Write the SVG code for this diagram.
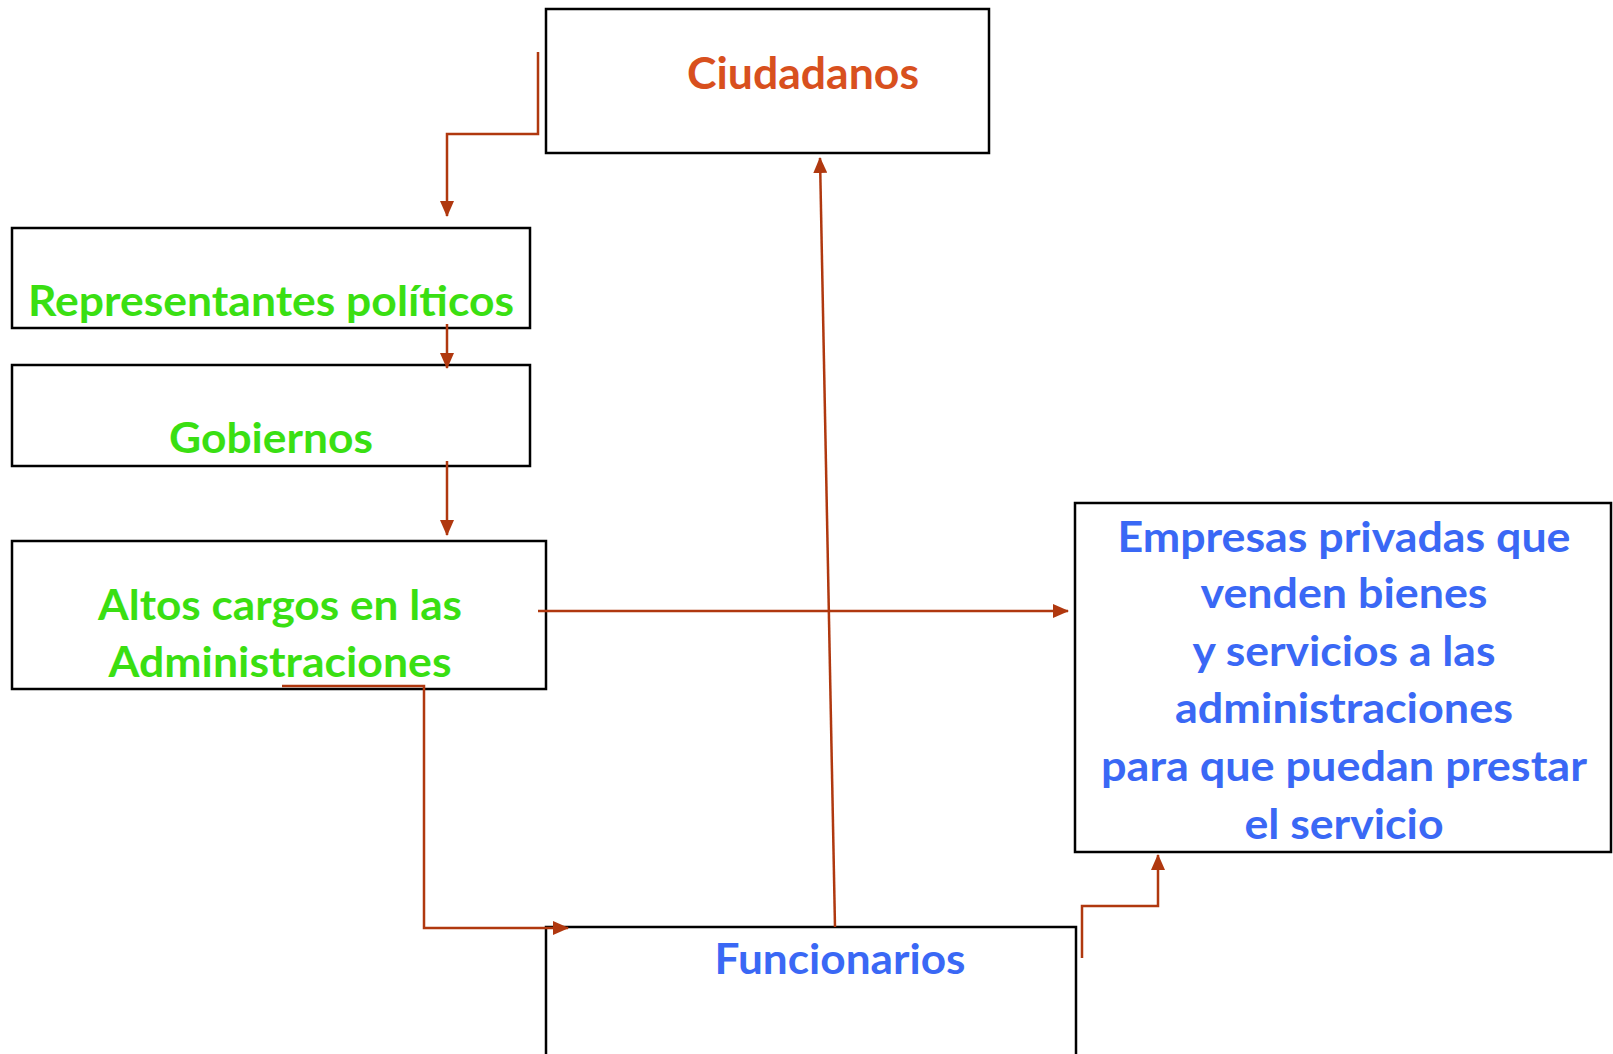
<svg xmlns="http://www.w3.org/2000/svg" width="1613" height="1054" viewBox="0 0 1613 1054">
<style>
.box{fill:#fff;stroke:#000;stroke-width:2.5}
.t{font-family:Lato,"Liberation Sans",sans-serif;font-weight:bold;text-anchor:middle}
.g{fill:#3ADF12}
.b{fill:#3A68F5}
.o{fill:#D8501E}
.c{fill:none;stroke:#B0380F;stroke-width:2.5}
</style>
<defs>
<marker id="ah" markerWidth="16" markerHeight="14" refX="15" refY="7" orient="auto" markerUnits="userSpaceOnUse">
<path d="M0,0 L16,7 L0,14 Z" fill="#B0380F"/>
</marker>
</defs>
<rect width="1613" height="1054" fill="#fff"/>
<g id="ciudadanos">
<rect class="box" x="546" y="9" width="443" height="144"/>
<text class="t o" x="803" y="89" font-size="44" textLength="232" lengthAdjust="spacingAndGlyphs">Ciudadanos</text>
</g>
<g id="representantes">
<rect class="box" x="12" y="228" width="518" height="100"/>
<text class="t g" x="271" y="316" font-size="42" textLength="486" lengthAdjust="spacingAndGlyphs">Representantes políticos</text>
</g>
<g id="gobiernos">
<rect class="box" x="12" y="365" width="518" height="101"/>
<text class="t g" x="271" y="453" font-size="42" textLength="204" lengthAdjust="spacingAndGlyphs">Gobiernos</text>
</g>
<g id="altos">
<rect class="box" x="12" y="541" width="534" height="148"/>
<text class="t g" x="280" y="620" font-size="42" textLength="364" lengthAdjust="spacingAndGlyphs">Altos cargos en las</text>
<text class="t g" x="280" y="677" font-size="42" textLength="343" lengthAdjust="spacingAndGlyphs">Administraciones</text>
</g>
<g id="empresas">
<rect class="box" x="1075" y="503" width="536" height="349"/>
<text class="t b" x="1344" y="552" font-size="42" textLength="453" lengthAdjust="spacingAndGlyphs">Empresas privadas que</text>
<text class="t b" x="1344" y="608" font-size="42" textLength="287" lengthAdjust="spacingAndGlyphs">venden bienes</text>
<text class="t b" x="1344" y="666" font-size="42" textLength="303" lengthAdjust="spacingAndGlyphs">y servicios a las</text>
<text class="t b" x="1344" y="723" font-size="42" textLength="338" lengthAdjust="spacingAndGlyphs">administraciones</text>
<text class="t b" x="1344" y="781" font-size="42" textLength="486" lengthAdjust="spacingAndGlyphs">para que puedan prestar</text>
<text class="t b" x="1344" y="839" font-size="42" textLength="199" lengthAdjust="spacingAndGlyphs">el servicio</text>
</g>
<g id="funcionarios">
<rect class="box" x="546" y="927" width="530" height="140"/>
<text class="t b" x="840" y="974" font-size="42" textLength="251" lengthAdjust="spacingAndGlyphs">Funcionarios</text>
</g>
<g id="connectors">
<polyline class="c" points="538,52 538,134 447,134 447,216" marker-end="url(#ah)"/>
<line class="c" x1="447" y1="324" x2="447" y2="368" marker-end="url(#ah)"/>
<line class="c" x1="447" y1="461" x2="447" y2="535" marker-end="url(#ah)"/>
<line class="c" x1="538" y1="611" x2="1068" y2="611" marker-end="url(#ah)"/>
<polyline class="c" points="282,686 424,686 424,928 568,928" marker-end="url(#ah)"/>
<line class="c" x1="835" y1="927" x2="820" y2="158" marker-end="url(#ah)"/>
<polyline class="c" points="1082,958 1082,906 1158,906 1158,855" marker-end="url(#ah)"/>
</g>
</svg>
